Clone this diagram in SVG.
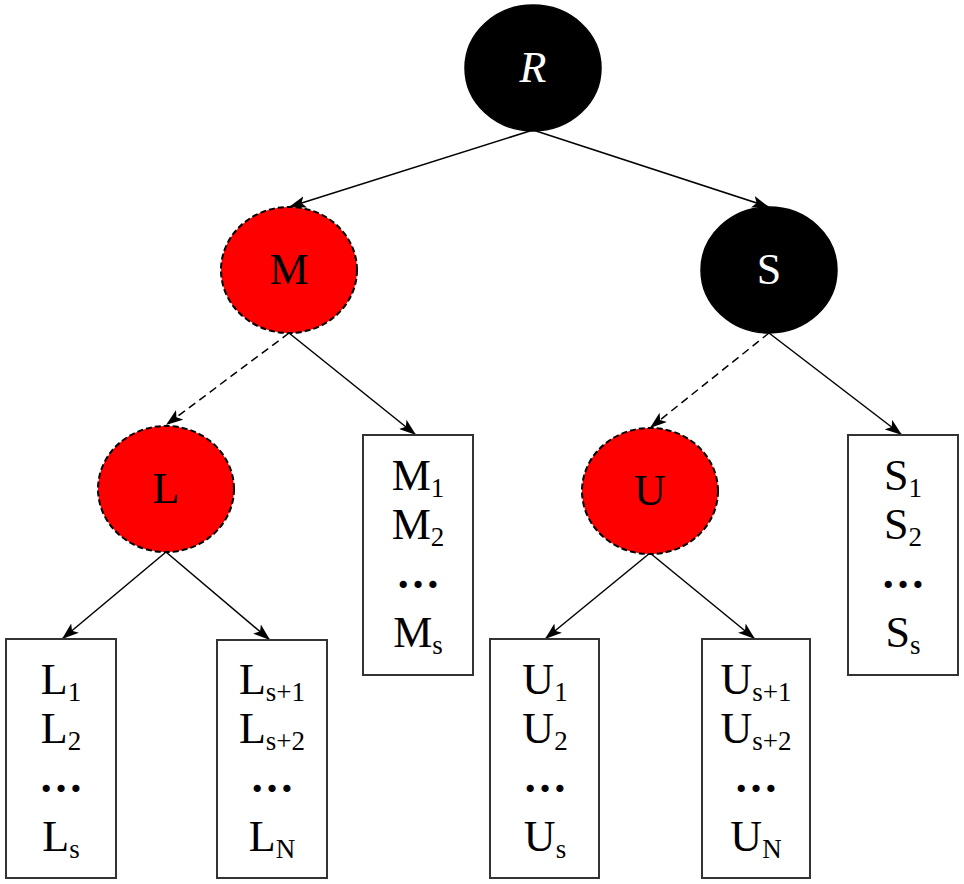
<svg xmlns="http://www.w3.org/2000/svg" width="964" height="884" viewBox="0 0 964 884">
<defs>
<marker id="ah" viewBox="0 0 17 12" refX="17" refY="6" markerWidth="17" markerHeight="12" markerUnits="userSpaceOnUse" orient="auto">
<path d="M0,0 L17,6 L0,12 L4,6 z" fill="#000"/>
</marker>
<style>
.blk{fill:#000;stroke:#000;stroke-width:1.5}
.red{fill:#ff0000;stroke:#000;stroke-width:2;stroke-dasharray:6 3}
.box{fill:#fff;stroke:#333;stroke-width:2}
.t{font-family:"Liberation Serif","Times New Roman",serif;font-size:44px;text-anchor:middle}
.w{fill:#fff}
.k{fill:#000}
.sub{font-size:27px}
.dots{font-weight:bold}
.c{stroke:#000;stroke-width:1.5;fill:none;marker-end:url(#ah)}
.d{stroke-dasharray:8 5}
</style>
</defs>
<rect width="964" height="884" fill="#fff"/>
<g id="connectors">
<line class="c" x1="533" y1="130" x2="289" y2="207"/>
<line class="c" x1="533" y1="130" x2="769" y2="207"/>
<line class="c d" x1="289" y1="333" x2="166" y2="425"/>
<line class="c" x1="289" y1="333" x2="416" y2="435"/>
<line class="c d" x1="769" y1="333" x2="650" y2="428"/>
<line class="c" x1="769" y1="333" x2="902" y2="435"/>
<line class="c" x1="166" y1="552" x2="62" y2="639"/>
<line class="c" x1="166" y1="552" x2="270" y2="640"/>
<line class="c" x1="650" y1="553" x2="545" y2="639"/>
<line class="c" x1="650" y1="553" x2="755" y2="639"/>
</g>
<g id="node-R">
<ellipse class="blk" cx="533" cy="68" rx="68" ry="63"/>
<text class="t w" x="533" y="82" font-style="italic">R</text>
</g>
<g id="node-M">
<ellipse class="red" cx="289" cy="270" rx="68" ry="63"/>
<text class="t k" x="289" y="284">M</text>
</g>
<g id="node-S">
<ellipse class="blk" cx="769" cy="270" rx="68" ry="63"/>
<text class="t w" x="769" y="284">S</text>
</g>
<g id="node-L">
<ellipse class="red" cx="166" cy="489" rx="68" ry="63"/>
<text class="t k" x="166" y="503">L</text>
</g>
<g id="node-U">
<ellipse class="red" cx="650" cy="491" rx="68" ry="63"/>
<text class="t k" x="650" y="505">U</text>
</g>
<g id="box-L1">
<rect class="box" x="6" y="639" width="110" height="239"/>
<text class="t k" x="61" y="694">L<tspan class="sub" dy="7">1</tspan></text>
<text class="t k" x="61" y="743">L<tspan class="sub" dy="7">2</tspan></text>
<text class="t k dots" x="61" y="792">…</text>
<text class="t k" x="61" y="851">L<tspan class="sub" dy="7">s</tspan></text>
</g>
<g id="box-L2">
<rect class="box" x="217" y="640" width="110" height="238"/>
<text class="t k" x="272" y="694">L<tspan class="sub" dy="7">s+1</tspan></text>
<text class="t k" x="272" y="743">L<tspan class="sub" dy="7">s+2</tspan></text>
<text class="t k dots" x="272" y="792">…</text>
<text class="t k" x="272" y="851">L<tspan class="sub" dy="7">N</tspan></text>
</g>
<g id="box-M">
<rect class="box" x="363" y="435" width="110" height="240"/>
<text class="t k" x="418" y="490">M<tspan class="sub" dy="7">1</tspan></text>
<text class="t k" x="418" y="539">M<tspan class="sub" dy="7">2</tspan></text>
<text class="t k dots" x="418" y="588">…</text>
<text class="t k" x="418" y="647">M<tspan class="sub" dy="7">s</tspan></text>
</g>
<g id="box-U1">
<rect class="box" x="490" y="639" width="109" height="239"/>
<text class="t k" x="545" y="694">U<tspan class="sub" dy="7">1</tspan></text>
<text class="t k" x="545" y="743">U<tspan class="sub" dy="7">2</tspan></text>
<text class="t k dots" x="545" y="792">…</text>
<text class="t k" x="545" y="851">U<tspan class="sub" dy="7">s</tspan></text>
</g>
<g id="box-U2">
<rect class="box" x="702" y="639" width="108" height="239"/>
<text class="t k" x="756" y="694">U<tspan class="sub" dy="7">s+1</tspan></text>
<text class="t k" x="756" y="743">U<tspan class="sub" dy="7">s+2</tspan></text>
<text class="t k dots" x="756" y="792">…</text>
<text class="t k" x="756" y="851">U<tspan class="sub" dy="7">N</tspan></text>
</g>
<g id="box-S">
<rect class="box" x="848" y="435" width="110" height="240"/>
<text class="t k" x="903" y="490">S<tspan class="sub" dy="7">1</tspan></text>
<text class="t k" x="903" y="539">S<tspan class="sub" dy="7">2</tspan></text>
<text class="t k dots" x="903" y="588">…</text>
<text class="t k" x="903" y="647">S<tspan class="sub" dy="7">s</tspan></text>
</g>
</svg>
